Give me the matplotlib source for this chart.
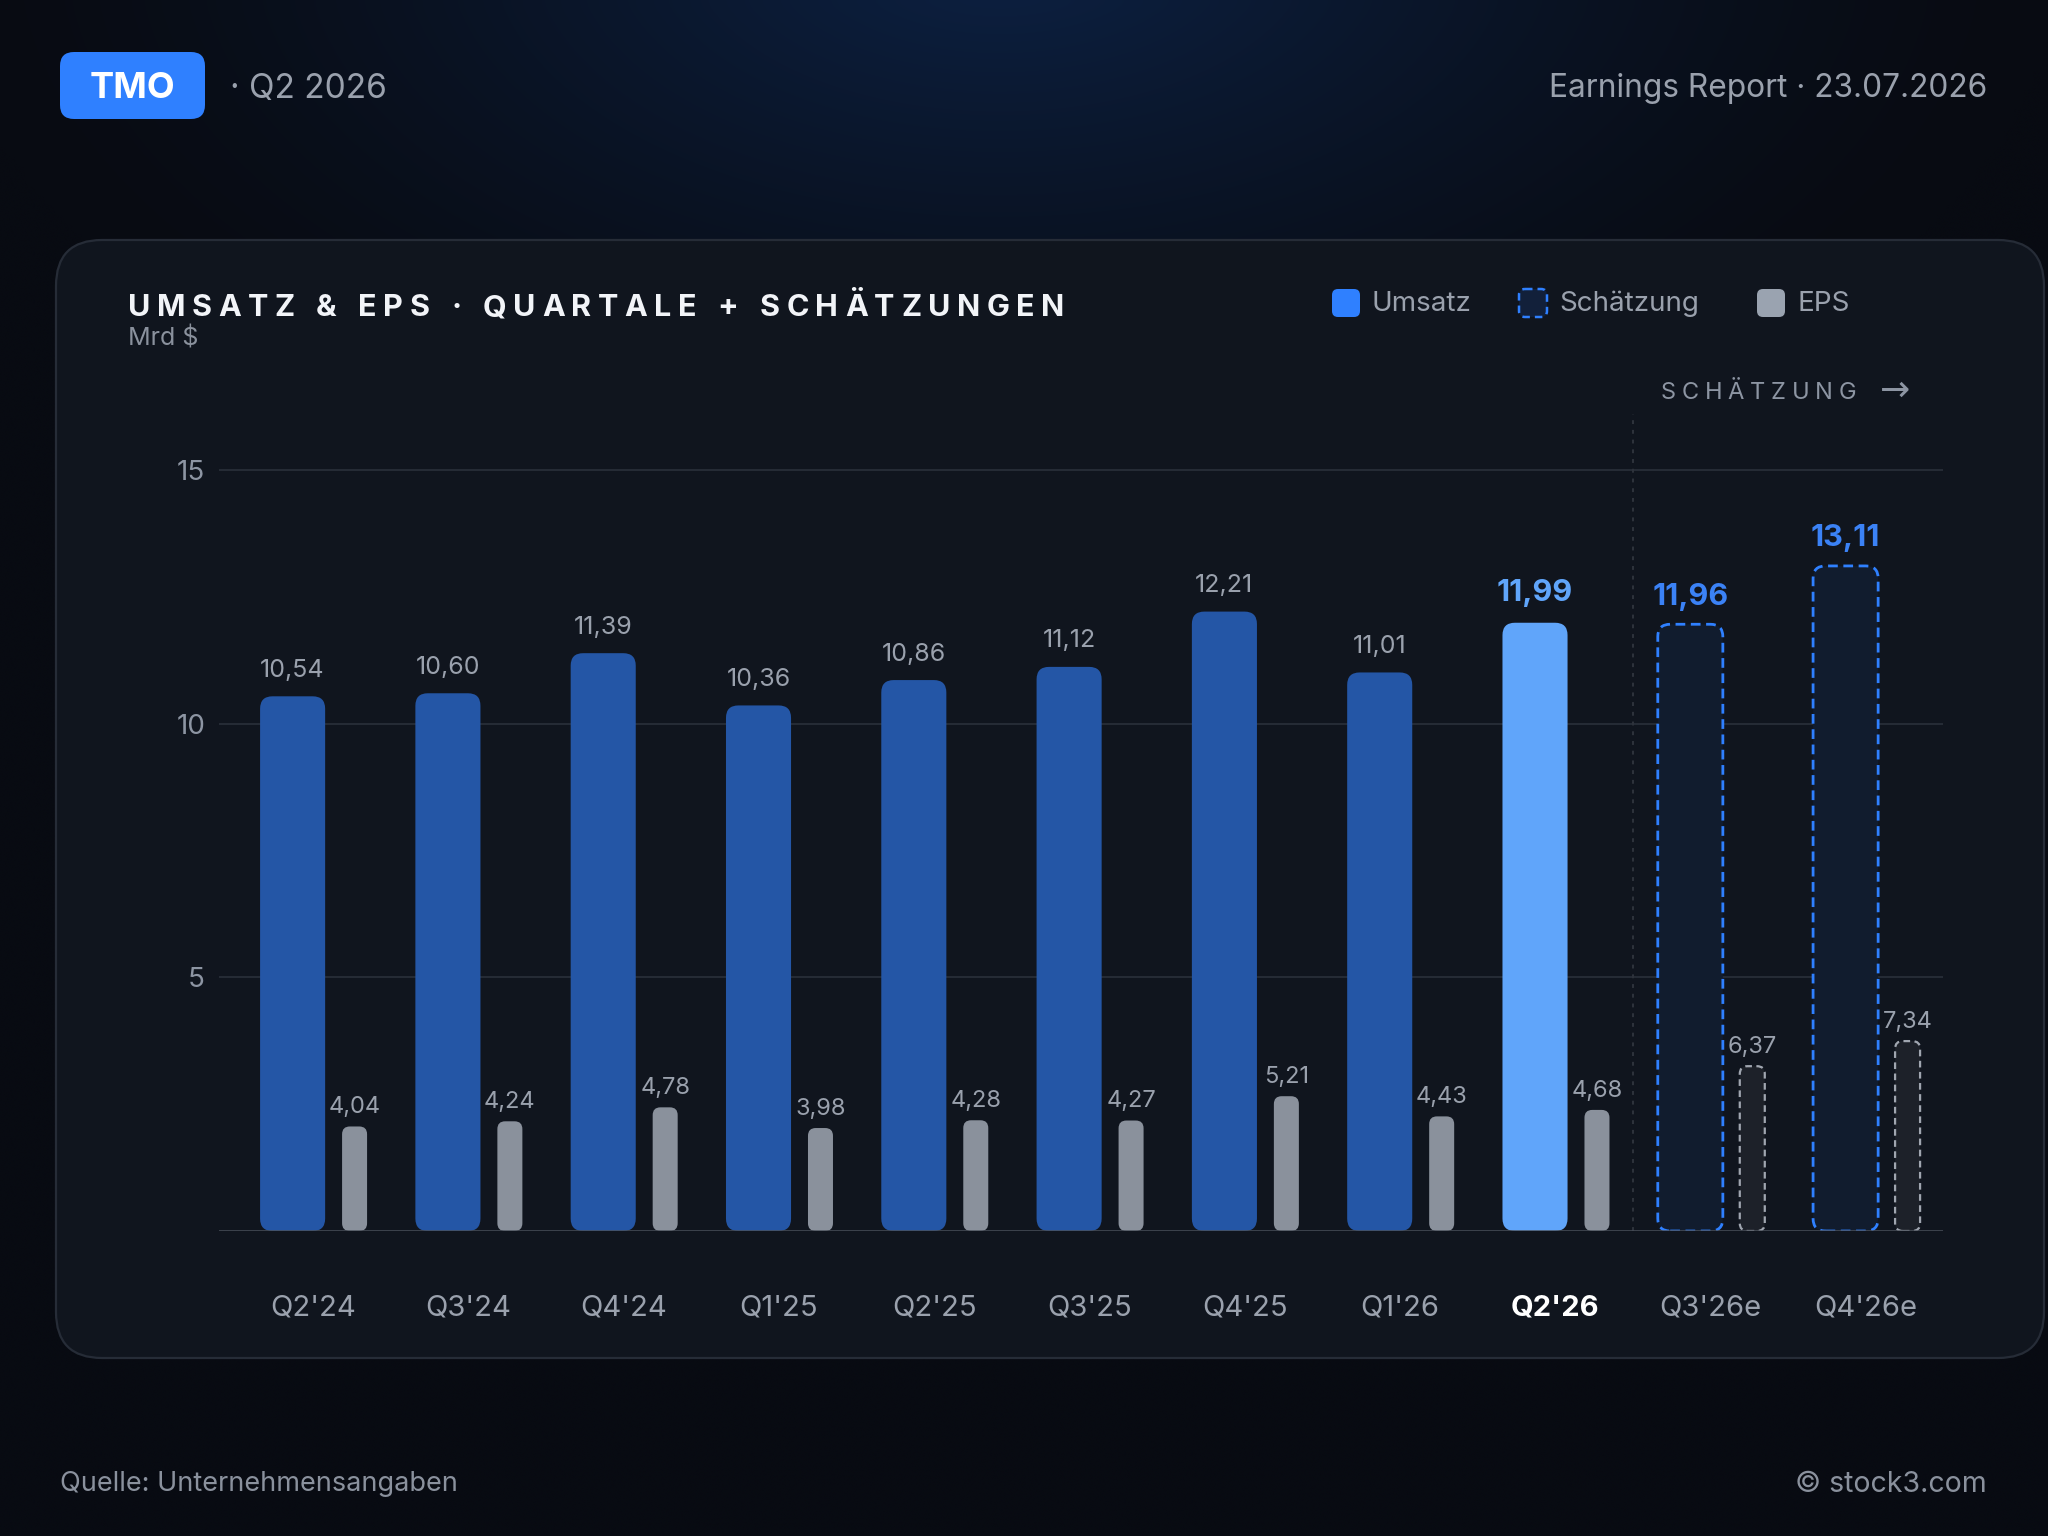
import numpy as np
import matplotlib.pyplot as plt
import matplotlib.transforms as mtransforms
from matplotlib import colors as mcolors
from matplotlib.patches import FancyBboxPatch

plt.rcParams['font.family'] = ['Inter', 'DejaVu Sans']

# Daten
quartale = ["Q2'24", "Q3'24", "Q4'24", "Q1'25", "Q2'25", "Q3'25", "Q4'25",
            "Q1'26", "Q2'26", "Q3'26e", "Q4'26e"]
umsatz = [10.54, 10.60, 11.39, 10.36, 10.86, 11.12, 12.21, 11.01, 11.99, 11.96, 13.11]
eps = [4.04, 4.24, 4.78, 3.98, 4.28, 4.27, 5.21, 4.43, 4.68, 6.37, 7.34]
schaetzung = [False] * 9 + [True] * 2
aktuell = 8
eps_faktor = 0.51   # EPS wird im Chart halb so hoch gezeichnet

def fmt(v):
    return f"{v:.2f}".replace(".", ",")

GRAU = '#8d95a3'
BLAU = '#2f80ff'

fig = plt.figure(figsize=(20.48, 15.36), dpi=100)

# Hintergrund-Achse in Pixeln
bg = fig.add_axes([0, 0, 1, 1])
bg.set_xlim(0, 2048)
bg.set_ylim(1536, 0)
bg.axis('off')

h, w = 160, 214
yy, xx = np.mgrid[0:h, 0:w]
xx = xx / (w - 1) * 2048
yy = yy / (h - 1) * 1536
d = np.sqrt(((xx - 1000) / 1050) ** 2 + ((yy + 60) / 560) ** 2)
glow = np.clip(1 - d, 0, 1) ** 1.4
base = np.array(mcolors.to_rgb('#080b12'))
blau = np.array(mcolors.to_rgb('#0d2245'))
img = base + glow[..., None] * (blau - base)
bg.imshow(img, extent=(0, 2048, 1536, 0), aspect='auto', interpolation='bicubic', zorder=0)

# Karte
karte = FancyBboxPatch((56, 240), 1988, 1118, boxstyle='round,pad=0,rounding_size=46',
                       fc='#10151e', ec='#262c37', lw=1.6, zorder=1)
bg.add_patch(karte)

# Kopfzeile
badge = FancyBboxPatch((60, 52), 145, 67, boxstyle='round,pad=0,rounding_size=14',
                       fc=BLAU, ec='none', zorder=2)
bg.add_patch(badge)
bg.text(132.5, 89, 'TMO', color='white', fontsize=26, fontweight='bold',
        ha='center', va='center', zorder=3)
bg.text(230, 89, '· Q2 2026', color='#9aa1ad', fontsize=24, ha='left', va='center', zorder=3)
bg.text(1987, 89, 'Earnings Report · 23.07.2026', color='#9aa1ad', fontsize=22.8,
        ha='right', va='center', zorder=3)

# Fußzeile
bg.text(60, 1484, 'Quelle: Unternehmensangaben', color='#8a919d', fontsize=19.5,
        ha='left', va='center', zorder=3)
bg.text(1987, 1484, '© stock3.com', color='#8a919d', fontsize=20.5,
        ha='right', va='center', zorder=3)

renderer = fig.canvas.get_renderer()

def gesperrt(x, y, s, ziel_breite, **kw):
    teile = [bg.text(0, y, ch, ha='left', va='center', zorder=3, **kw) for ch in s]
    breiten = []
    for t, ch in zip(teile, s):
        if ch == ' ':
            breiten.append(kw['fontsize'] * 100 / 72 * 0.28)
        else:
            breiten.append(t.get_window_extent(renderer).width)
    extra = (ziel_breite - sum(breiten)) / (len(s) - 1)
    for t, bw in zip(teile, breiten):
        t.set_x(x)
        x += bw + extra

gesperrt(128, 308, 'UMSATZ & EPS · QUARTALE + SCHÄTZUNGEN', 936,
         color='#f2f4f8', fontsize=22, fontweight='bold')
bg.text(128, 338, 'Mrd $', color='#8a919d', fontsize=18, ha='left', va='center', zorder=3)
gesperrt(1661, 393, 'SCHÄTZUNG', 195, color='#8d95a3', fontsize=17)
bg.text(1910, 391, '→', color='#8d95a3', fontsize=26, ha='right', va='center', zorder=3,
        family=['DejaVu Sans'])

# Legende
leg = [(1332, 'Umsatz', dict(fc=BLAU, ec='none')),
       (1519, 'Schätzung', dict(fc='#12203a', ec=BLAU, lw=1.8, ls=(0, (3, 2)))),
       (1757, 'EPS', dict(fc='#9aa3b0', ec='none'))]
for lx, name, stil in leg:
    bg.add_patch(FancyBboxPatch((lx, 289), 28, 28, boxstyle='round,pad=0,rounding_size=6',
                                zorder=3, **stil))
    bg.text(lx + 40, 304, name, color='#9aa1ad', fontsize=20, ha='left', va='center', zorder=3)

# Diagramm-Achse
px_x = 155.3
px_y = 50.73
x0, x1 = -0.605, 10.495
y1 = 16.1
basis = 1231
ax = fig.add_axes([219 / 2048, (1536 - basis) / 1536, (x1 - x0) * px_x / 2048, y1 * px_y / 1536])
ax.set_zorder(5)
ax.patch.set_alpha(0)
ax.set_xlim(x0, x1)
ax.set_ylim(0, y1)
for s in ax.spines.values():
    s.set_visible(False)
ax.set_yticks([5, 10, 15])
ax.set_yticklabels(['5', '10', '15'])
ax.tick_params(axis='y', length=0, pad=10, labelsize=20, labelcolor='#8d95a3')
ax.set_xticks([])
ax.yaxis.grid(True, color='#262c36', lw=1.4)
ax.set_axisbelow(True)
ax.axhline(0, color='#4a505a', lw=1.8, zorder=4)
ax.plot([8.5, 8.5], [0, y1], color='#2e333c', lw=1.4, ls=(0, (2, 3)), zorder=1)

x = np.arange(len(quartale))
aspekt = px_x / px_y
rev_bars = ax.bar(x - 0.131, umsatz, width=0.419)
eps_bars = ax.bar(x + 0.268, np.array(eps) * eps_faktor, width=0.161)

for i, (rb, eb) in enumerate(zip(rev_bars, eps_bars)):
    rb.set_visible(False)
    eb.set_visible(False)
    if schaetzung[i]:
        rstil = dict(fc='#111c2e', ec=BLAU, lw=2.0, ls=(0, (3.5, 2)))
        estil = dict(fc='#1d2129', ec='#a0a6b0', lw=1.6, ls=(0, (3, 2)))
    elif i == aktuell:
        rstil = dict(fc='#60a5fa', ec='none')
        estil = dict(fc='#8a919c', ec='none')
    else:
        rstil = dict(fc='#2456a6', ec='none')
        estil = dict(fc='#8a919c', ec='none')
    ax.add_patch(FancyBboxPatch((rb.get_x(), rb.get_y()), rb.get_width(), rb.get_height(),
                                boxstyle='round,pad=0,rounding_size=0.08',
                                mutation_aspect=aspekt, zorder=3, **rstil))
    ax.add_patch(FancyBboxPatch((eb.get_x(), eb.get_y()), eb.get_width(), eb.get_height(),
                                boxstyle='round,pad=0,rounding_size=0.05',
                                mutation_aspect=aspekt, zorder=3, **estil))

    # Werte
    cx = rb.get_x() + rb.get_width() / 2
    if schaetzung[i]:
        ax.annotate(fmt(umsatz[i]), (cx, umsatz[i]), xytext=(0, 14), textcoords='offset points',
                    ha='center', va='baseline', color='#3b82f6', fontsize=22, fontweight='bold')
    elif i == aktuell:
        ax.annotate(fmt(umsatz[i]), (cx, umsatz[i]), xytext=(0, 15.5), textcoords='offset points',
                    ha='center', va='baseline', color='#60a5fa', fontsize=22, fontweight='bold')
    else:
        ax.annotate(fmt(umsatz[i]), (cx, umsatz[i]), xytext=(0, 14), textcoords='offset points',
                    ha='center', va='baseline', color='#9aa1ad', fontsize=18)
    ex = eb.get_x() + eb.get_width() / 2
    ax.annotate(fmt(eps[i]), (ex, eps[i] * eps_faktor), xytext=(0, 9.5), textcoords='offset points',
                ha='center', va='baseline', color='#9aa1ad', fontsize=17)

# Quartalsbeschriftung
trans = mtransforms.blended_transform_factory(ax.transData, bg.transData)
for i, q in enumerate(quartale):
    if i == aktuell:
        ax.text(i, 1308, q, transform=trans, ha='center', va='center', color='white',
                fontsize=21, fontweight='bold')
    else:
        ax.text(i, 1308, q, transform=trans, ha='center', va='center', color='#9aa1ad',
                fontsize=21)

fig.savefig('out.png', dpi=100, facecolor='#080b12')
